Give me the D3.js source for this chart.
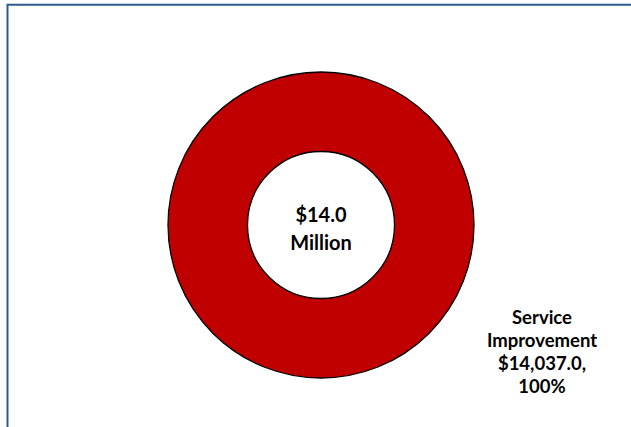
<!DOCTYPE html>
<html>
<head>
<meta charset="utf-8">
<script src="https://cdn.jsdelivr.net/npm/d3@7"></script>
<style>
  body { margin: 0; background: #fff; }
  svg text { font-family: Lato, "Open Sans", sans-serif; font-weight: bold; fill: #000; }
</style>
</head>
<body>
<figure id="donut" style="margin:0"></figure>
<script>
// chart data
const categories = ["Service Improvement"];
const values = [14037.0];
const colors = ["#C00000"];
const totalLabel = ["$14.0", "Million"];

const width = 631;
const height = 427;
const cx = 321, cy = 225;
const outerRadius = 153;
const innerRadius = 73.5;

const svg = d3.select("figure#donut")
  .append("svg")
  .attr("width", width)
  .attr("height", height);

// chart frame (top + left edges visible)
svg.append("path")
  .attr("d", "M7.5,427 V4.8 H631")
  .attr("fill", "none")
  .attr("stroke", "#2E5A8E")
  .attr("stroke-width", 2);

const g = svg.append("g")
  .attr("transform", "translate(" + cx + "," + cy + ")");

const total = d3.sum(values);
const pie = d3.pie().sort(null).value(d => d);
const arc = d3.arc().innerRadius(innerRadius).outerRadius(outerRadius);

g.selectAll("path.slice")
  .data(pie(values))
  .enter()
  .append("path")
  .attr("class", "slice")
  .attr("d", arc)
  .attr("fill", (d, i) => colors[i])
  .attr("stroke", "#000")
  .style("stroke-width", "1.3px");

// center total
g.append("text")
  .attr("text-anchor", "middle")
  .style("font-size", "20px")
  .selectAll("tspan")
  .data(totalLabel)
  .enter()
  .append("tspan")
  .attr("x", 0)
  .attr("y", (d, i) => -3 + i * 28)
  .text(d => d);

// data label, lower right outside the ring
const fmt = d3.format(",.1f");
const labelLines = (d, i) => {
  const words = categories[i].split(" ");
  return words.concat(["$" + fmt(d.data) + ",", Math.round(d.data / total * 100) + "%"]);
};

g.selectAll("text.label")
  .data(pie(values))
  .enter()
  .append("text")
  .attr("class", "label")
  .attr("text-anchor", "middle")
  .style("font-size", "18.5px")
  .each(function(d, i) {
    d3.select(this).selectAll("tspan")
      .data(labelLines(d, i))
      .enter()
      .append("tspan")
      .attr("x", 221)
      .attr("y", (t, j) => 99 + j * 23)
      .text(t => t);
  });
</script>
</body>
</html>
